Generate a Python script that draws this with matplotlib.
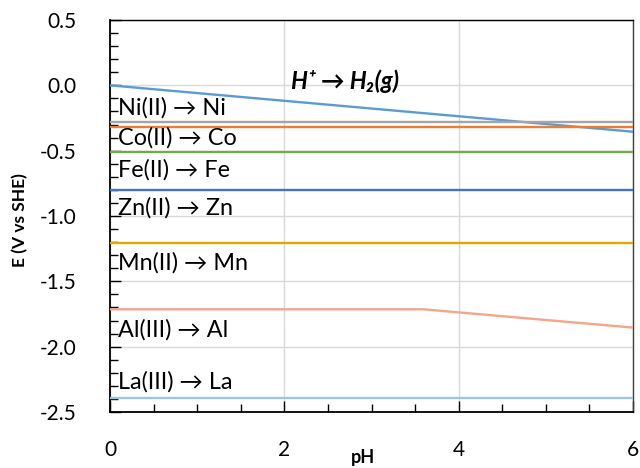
import matplotlib
matplotlib.use("Agg")
import matplotlib.pyplot as plt
from matplotlib.ticker import MultipleLocator

plt.rcParams['font.family'] = ['Lato', 'DejaVu Sans']

# Data
h_ph = [0, 6]
h_e = [0.0, -0.355]

flat_labels = ["Ni(II) → Ni", "Co(II) → Co", "Fe(II) → Fe", "Zn(II) → Zn", "Mn(II) → Mn", "La(III) → La"]
flat_e = [-0.278, -0.316, -0.513, -0.803, -1.209, -2.39]
flat_colors = ["#A5A5A5", "#ED7D31", "#70AD47", "#4472C4", "#E0A800", "#9DC3E6"]
flat_label_y = [-0.173, -0.403, -0.648, -0.938, -1.359, -2.268]

al_ph = [0, 3.594, 6]
al_e = [-1.714, -1.714, -1.854]
al_label = "Al(III) → Al"
al_label_y = -1.872

fig = plt.figure(figsize=(6.4, 4.68), dpi=100)
ax = fig.add_axes([110/640, 1-412/468, 523/640, 392/468])

ax.set_xlim(0, 6)
ax.set_ylim(-2.5, 0.5)

ax.plot(h_ph, h_e, color="#5B9BD5", lw=1.7, zorder=3)
for e, c in zip(flat_e, flat_colors):
    ax.plot([0, 6], [e, e], color=c, lw=1.7, zorder=3)
ax.plot(al_ph, al_e, color="#F4A58A", lw=1.7, zorder=3)

for lab, y in zip(flat_labels, flat_label_y):
    ax.text(0.09, y, lab, fontsize=16.8, va="center", ha="left")
ax.text(0.09, al_label_y, al_label, fontsize=16.8, va="center", ha="left")
ax.text(2.08, 0.028, "H⁺ → H₂(g)", fontsize=17, fontweight="bold", style="italic",
        va="center", ha="left")

ax.xaxis.set_major_locator(MultipleLocator(2))
ax.xaxis.set_minor_locator(MultipleLocator(0.5))
ax.yaxis.set_major_locator(MultipleLocator(0.5))
ax.yaxis.set_minor_locator(MultipleLocator(0.1))
ax.yaxis.set_major_formatter(matplotlib.ticker.FormatStrFormatter('%.1f'))

ax.grid(True, which="major", color="#D9D9D9", lw=1.0, zorder=0)
ax.set_axisbelow(True)
ax.tick_params(axis="both", which="major", direction="in", length=8, width=1.0, labelsize=15)
ax.tick_params(axis="both", which="minor", direction="in", length=6, width=1.0)
ax.tick_params(axis="x", which="major", pad=20)
ax.tick_params(axis="y", which="major", pad=24)

for s in ["left", "bottom"]:
    ax.spines[s].set_color("black")
    ax.spines[s].set_linewidth(1.3)
ax.spines["top"].set_color("black")
ax.spines["top"].set_linewidth(1.0)
ax.spines["right"].set_color("#404040")
ax.spines["right"].set_linewidth(1.0)

ax.set_xlabel("pH", fontsize=13, fontweight="bold")
ax.set_ylabel("E (V vs SHE)", fontsize=12.5, fontweight="bold")
# place axis titles at the reference positions (figure pixel coordinates)
ax.xaxis.set_label_coords(363/640, 1-458/468, transform=fig.transFigure)
ax.xaxis.label.set_va("center")
ax.yaxis.set_label_coords(20/640, 1-220/468, transform=fig.transFigure)
ax.yaxis.label.set_va("center")

fig.savefig("out.png", dpi=100)
